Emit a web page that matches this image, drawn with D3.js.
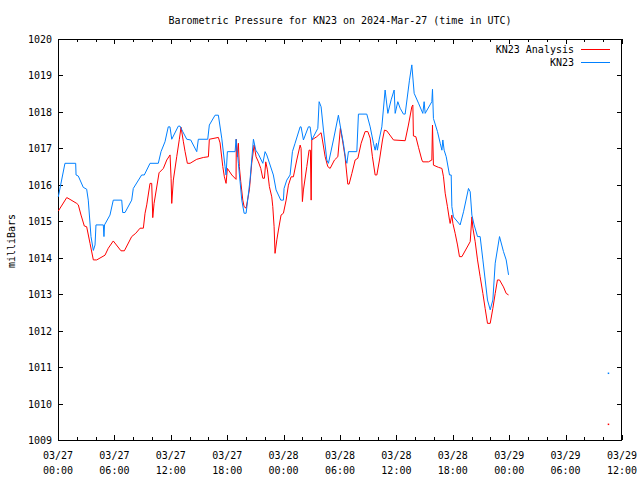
<!DOCTYPE html>
<html><head><meta charset="utf-8">
<script src="https://cdn.jsdelivr.net/npm/d3@7"></script>
<style>
body{margin:0;background:#fff;}
text{font-family:"DejaVu Sans Mono",monospace;font-size:10px;fill:#000;}
</style></head><body>
<svg id="c" width="640" height="480"></svg>
<script>
// hours since 2024-03-27 00:00 UTC
const analysisHours=[0.03,0.93,1.28,1.99,2.16,2.45,2.8,3.05,3.41,3.76,4.12,5.0,5.35,5.88,6.7,7.06,7.84,8.27,8.73,9.08,9.26,9.44,9.79,9.97,10.08,10.22,10.75,11.21,11.57,11.92,12.03,12.1,12.27,12.63,12.91,13.09,13.34,13.52,13.76,14.05,14.76,15.46,16.0,16.1,17.06,17.24,17.53,17.7,17.88,18.02,18.49,18.94,18.97,19.08,19.19,19.29,19.44,19.66,19.8,20.01,20.36,20.61,20.86,21.07,21.32,21.57,21.79,21.96,22.1,22.28,22.49,22.74,22.85,22.99,23.09,23.28,23.45,23.73,23.98,24.27,24.51,24.8,25.04,25.4,25.76,25.86,26.0,26.11,26.47,26.71,26.85,26.93,27.0,27.53,27.99,28.13,28.42,28.7,28.95,29.41,29.77,30.04,30.26,30.54,30.73,30.83,30.97,31.26,31.61,31.9,32.25,32.67,32.96,33.21,33.45,33.74,33.92,34.2,34.52,34.73,34.98,35.69,36.93,37.28,37.64,37.75,37.81,38.07,38.35,38.71,38.81,39.41,39.77,39.84,39.94,40.47,40.84,41.01,41.19,41.43,41.65,41.72,41.9,42.01,42.25,42.5,42.71,42.97,43.85,44.03,44.14,44.38,44.63,44.91,45.2,45.44,45.69,45.98,46.26,46.51,46.75,46.97,47.39,47.68,47.93];
const analysisValues=[1015.28,1015.65,1015.6,1015.49,1015.45,1015.17,1014.87,1014.85,1014.39,1013.94,1013.94,1014.07,1014.26,1014.46,1014.19,1014.19,1014.58,1014.67,1014.81,1014.81,1015.22,1015.45,1016.04,1016.04,1015.1,1015.49,1016.33,1016.45,1016.68,1016.82,1016.18,1015.49,1016.13,1016.77,1017.25,1017.58,1017.18,1016.91,1016.59,1016.59,1016.7,1016.75,1016.77,1017.25,1017.3,1017.15,1016.5,1016.22,1016.04,1016.45,1016.27,1016.15,1017.25,1016.77,1017.14,1016.5,1016.09,1015.58,1015.4,1015.36,1015.86,1016.59,1017.09,1016.77,1016.63,1016.45,1016.18,1016.18,1016.63,1016.41,1015.95,1015.67,1015.4,1014.85,1014.12,1014.49,1014.76,1015.17,1015.22,1015.58,1015.99,1016.22,1016.22,1016.68,1017.09,1017.0,1015.54,1015.86,1016.5,1016.95,1016.95,1015.58,1017.23,1017.32,1017.43,1017.23,1016.77,1016.5,1016.45,1016.68,1016.77,1017.55,1017.23,1016.77,1016.27,1016.02,1016.02,1016.31,1016.68,1016.73,1017.14,1017.46,1017.46,1017.28,1016.77,1016.27,1016.27,1016.68,1017.23,1017.5,1017.48,1017.23,1017.21,1017.64,1018.14,1018.19,1017.34,1017.32,1017.03,1016.68,1016.63,1016.63,1016.68,1017.64,1016.54,1016.48,1016.45,1016.22,1015.77,1015.4,1015.03,1014.94,1015.17,1014.94,1014.67,1014.35,1014.03,1014.03,1014.44,1015.12,1014.81,1014.44,1013.94,1013.48,1013.02,1012.61,1012.2,1012.2,1012.61,1013.02,1013.39,1013.39,1013.2,1013.02,1012.98];
const obsHours=[0.03,0.74,1.88,1.92,2.16,2.69,3.05,3.22,3.51,3.76,3.94,4.04,4.82,4.89,4.95,5.53,5.88,6.78,6.88,7.13,7.84,8.01,8.9,9.18,9.79,10.67,10.96,11.38,11.73,11.91,12.1,12.8,12.98,13.27,13.7,14.12,14.76,14.93,15.93,16.1,16.71,17.06,17.42,17.77,17.88,18.02,18.84,18.94,19.19,19.55,19.8,20.01,20.43,20.79,21.04,21.32,21.79,22.03,22.21,22.91,23.2,23.7,23.98,24.05,24.34,24.69,24.94,25.22,25.76,25.86,26.11,26.64,26.82,27.0,27.64,27.78,27.99,28.24,28.6,28.77,29.3,29.83,30.01,30.36,30.62,30.73,30.9,31.79,31.96,32.85,33.21,33.56,33.74,33.88,33.98,34.16,34.45,34.8,35.09,35.44,35.76,35.87,36.15,36.4,36.75,36.93,37.39,37.64,37.89,38.35,38.81,38.95,39.06,39.77,39.84,39.94,40.37,40.66,40.84,40.94,41.08,41.3,41.65,41.83,41.9,42.07,42.78,43.14,43.67,43.85,44.03,44.27,44.63,44.91,45.2,45.69,45.98,46.26,46.51,46.97,47.39,47.68,47.93];
const obsValues=[1015.67,1016.59,1016.59,1016.27,1016.24,1015.93,1015.88,1015.58,1014.58,1014.2,1014.35,1014.9,1014.9,1014.58,1014.9,1015.17,1015.58,1015.58,1015.24,1015.24,1015.58,1015.9,1016.27,1016.27,1016.59,1016.59,1016.91,1017.18,1017.59,1017.59,1017.25,1017.61,1017.61,1017.46,1017.25,1017.23,1016.91,1017.25,1017.25,1017.64,1017.91,1017.91,1017.28,1016.5,1016.27,1016.91,1016.91,1017.25,1016.59,1015.58,1015.22,1015.22,1016.13,1017.25,1016.95,1016.84,1016.59,1016.91,1016.82,1016.27,1015.86,1015.58,1015.58,1015.9,1016.13,1016.27,1016.91,1017.14,1017.59,1017.59,1017.23,1017.59,1017.59,1017.23,1017.55,1018.28,1018.14,1017.5,1016.68,1016.59,1017.23,1017.91,1017.64,1017.14,1016.68,1016.59,1016.91,1016.91,1017.94,1017.94,1017.59,1017.14,1016.95,1017.14,1016.95,1017.23,1017.59,1018.6,1017.96,1018.33,1018.6,1017.96,1018.28,1018.1,1017.94,1017.94,1018.87,1019.29,1018.51,1018.24,1017.96,1018.28,1017.96,1018.28,1018.62,1017.82,1017.46,1017.14,1016.95,1017.23,1016.95,1016.77,1016.27,1016.27,1015.4,1015.12,1014.9,1015.26,1015.9,1015.81,1015.17,1014.9,1014.58,1014.58,1013.94,1012.84,1012.57,1012.84,1013.85,1014.58,1014.17,1013.94,1013.53];
// isolated single points
const analysisLoneHours=[58.56], analysisLoneValues=[1009.43];
const obsLoneHours=[58.56], obsLoneValues=[1010.83];
const yTicks=[1009,1010,1011,1012,1013,1014,1015,1016,1017,1018,1019,1020];
const xTickHours=[0,6,12,18,24,30,36,42,48,54,60];
const xTickDates=["03/27","03/27","03/27","03/27","03/28","03/28","03/28","03/28","03/29","03/29","03/29"];
const xTickTimes=["00:00","06:00","12:00","18:00","00:00","06:00","12:00","18:00","00:00","06:00","12:00"];
const seriesNames=["KN23 Analysis","KN23"];
const seriesColors=["#ff0000","#0080ff"];

const L=58,R=622,T=39,B=440;
const svg=d3.select("#c");
const x=d3.scaleLinear().domain([0,60]).range([L,R]);
const y=d3.scaleLinear().domain([1009,1020]).range([B,T]);

// title
svg.append("text").attr("x",340).attr("y",24).attr("text-anchor","middle")
  .text("Barometric Pressure for KN23 on 2024-Mar-27 (time in UTC)");
svg.append("text").attr("transform","translate(15,241) rotate(-90)").attr("text-anchor","middle").text("milliBars");

const crisp=g=>g.attr("shape-rendering","crispEdges");
// left axis
const gl=svg.append("g").attr("transform",`translate(${L},0)`)
  .call(d3.axisLeft(y).tickValues(yTicks).tickSize(-5).tickPadding(6).tickFormat(d3.format("d")));
// right mirror
const gr=svg.append("g").attr("transform",`translate(${R},0)`)
  .call(d3.axisRight(y).tickValues(yTicks).tickSize(-5).tickFormat(""));
// bottom
const gb=svg.append("g").attr("transform",`translate(0,${B})`)
  .call(d3.axisBottom(x).tickValues(xTickHours).tickSize(-5).tickFormat(""));
const gbm=svg.append("g").attr("transform",`translate(0,${B})`)
  .call(d3.axisBottom(x).tickValues(d3.range(0,61,2).filter(h=>h%6)).tickSize(-3).tickFormat(""));
// top
const gt=svg.append("g").attr("transform",`translate(0,${T})`)
  .call(d3.axisTop(x).tickValues(xTickHours).tickSize(-5).tickFormat(""));
const gtm=svg.append("g").attr("transform",`translate(0,${T})`)
  .call(d3.axisTop(x).tickValues(d3.range(0,61,2).filter(h=>h%6)).tickSize(-3).tickFormat(""));
[gl,gr,gb,gbm,gt,gtm].forEach(g=>{g.select(".domain").remove();g.selectAll("line").attr("stroke","#000");crisp(g);
  g.selectAll("text").style("font-family",'"DejaVu Sans Mono",monospace').style("font-size","10px").attr("fill","#000");});
gl.selectAll("text").attr("dy","0.35em");
// x labels two lines
const lab=svg.append("g");
xTickHours.forEach((h,i)=>{
  lab.append("text").attr("x",x(h)).attr("y",459).attr("text-anchor","middle").text(xTickDates[i]);
  lab.append("text").attr("x",x(h)).attr("y",474).attr("text-anchor","middle").text(xTickTimes[i]);
});
// border
svg.append("rect").attr("x",L+0.5).attr("y",T+0.5).attr("width",R-L-1).attr("height",B-T).attr("fill","none").attr("stroke","#000").attr("shape-rendering","crispEdges");
// hmm border at exact pixel lines
// lines
const line=d3.line().x(d=>x(d[0])).y(d=>y(d[1]));
const aData=analysisHours.map((h,i)=>[h,analysisValues[i]]);
const oData=obsHours.map((h,i)=>[h,obsValues[i]]);
svg.append("path").datum(aData).attr("d",line).attr("fill","none").attr("stroke",seriesColors[0]).attr("stroke-width",1);
svg.append("path").datum(oData).attr("d",line).attr("fill","none").attr("stroke",seriesColors[1]).attr("stroke-width",1);
analysisLoneHours.forEach((h,i)=>svg.append("rect").attr("x",x(h)-0.75).attr("y",y(analysisLoneValues[i])-0.75).attr("width",1.5).attr("height",1.5).attr("fill",seriesColors[0]));
obsLoneHours.forEach((h,i)=>svg.append("rect").attr("x",x(h)-0.75).attr("y",y(obsLoneValues[i])-0.75).attr("width",1.5).attr("height",1.5).attr("fill",seriesColors[1]));
// legend
const ly=[49.5,62.5];
seriesNames.forEach((n,i)=>{
  svg.append("text").attr("x",574).attr("y",ly[i]+3.6).attr("text-anchor","end").text(n);
  svg.append("line").attr("x1",581).attr("x2",610).attr("y1",ly[i]).attr("y2",ly[i]).attr("stroke",seriesColors[i]).attr("stroke-width",1).attr("shape-rendering","crispEdges");
});
</script></body></html>
